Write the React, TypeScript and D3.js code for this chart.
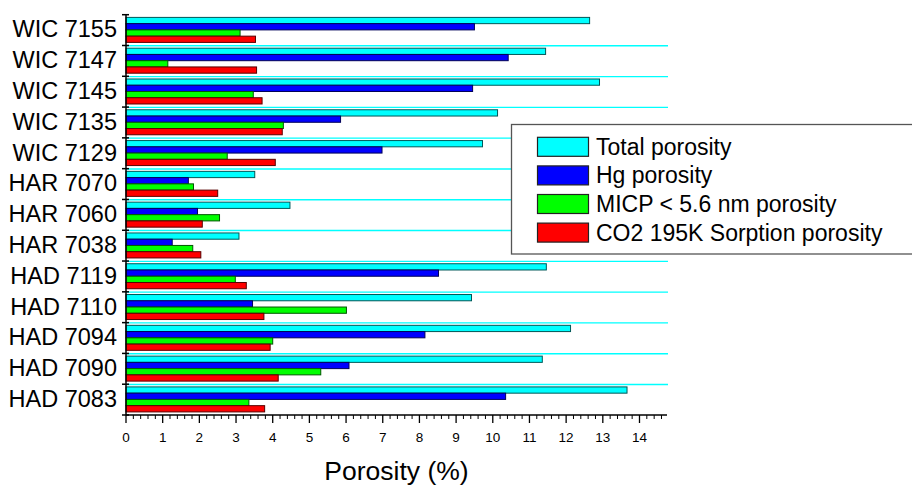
import React from "react";
import * as d3 from "d3";

const categories = [
  "WIC 7155", "WIC 7147", "WIC 7145", "WIC 7135", "WIC 7129",
  "HAR 7070", "HAR 7060", "HAR 7038",
  "HAD 7119", "HAD 7110", "HAD 7094", "HAD 7090", "HAD 7083",
];
const seriesNames = [
  "Total porosity",
  "Hg porosity",
  "MICP < 5.6 nm porosity",
  "CO2 195K Sorption porosity",
];
const seriesColors = ["#00ffff", "#0000ff", "#00ff00", "#ff0000"];
const totalPorosity = [12.64, 11.44, 12.91, 10.13, 9.72, 3.51, 4.47, 3.08, 11.46, 9.42, 12.12, 11.35, 13.66];
const hgPorosity = [9.5, 10.42, 9.45, 5.85, 6.98, 1.7, 1.95, 1.26, 8.52, 3.45, 8.15, 6.08, 10.35];
const micpPorosity = [3.11, 1.14, 3.47, 4.29, 2.76, 1.84, 2.55, 1.82, 2.98, 6.01, 4.0, 5.31, 3.35];
const co2Porosity = [3.53, 3.56, 3.71, 4.26, 4.07, 2.5, 2.08, 2.04, 3.28, 3.76, 3.93, 4.15, 3.78];
const xTicks = [0, 1, 2, 3, 4, 5, 6, 7, 8, 9, 10, 11, 12, 13, 14];
const xMax = 14.75;
const xTitle = "Porosity (%)";

const FONT = "'Liberation Sans', Arial, Helvetica, sans-serif";

export default function App() {
  const W = 912, H = 487;
  const left = 126, right = 667, top = 14.7, bottom = 415;
  const series = [totalPorosity, hgPorosity, micpPorosity, co2Porosity];

  const x = d3.scaleLinear().domain([0, xMax]).range([left, right]);
  const y = d3.scaleBand<string>().domain(categories).range([top, bottom]).padding(0);
  const bw = y.bandwidth();
  const barH = 6.25;
  const groupOffset = 2.7;

  const minorTicks = d3.range(0, xMax + 1e-9, 0.2).filter(
    (v) => Math.abs(v - Math.round(v)) > 1e-6
  );
  const boundaries = categories.map((_, i) => top + i * bw).concat([bottom]);

  return (
    <svg
      width={W}
      height={H}
      style={{ position: "absolute", left: 0, top: 0, background: "#fff" }}
      fontFamily={FONT}
    >
      <rect x={0} y={0} width={W} height={H} fill="#fff" />
      {/* cyan grid lines between categories */}
      {boundaries.slice(1, -1).map((b, i) => (
        <line key={"g" + i} x1={left} x2={right + 1} y1={b + 0.3} y2={b + 0.3} stroke="#00ffff" strokeWidth={1.4} />
      ))}
      {/* bars */}
      {categories.map((c, ci) => (
        <g key={c}>
          {series.map((s, si) => {
            const y0 = (y(c) as number) + groupOffset + si * barH;
            return (
              <rect
                key={si}
                x={x(0)}
                y={y0}
                width={x(s[ci]) - x(0)}
                height={barH}
                fill={seriesColors[si]}
                stroke={d3.rgb(seriesColors[si]).darker(3).formatHex()}
                strokeWidth={1}
              />
            );
          })}
        </g>
      ))}
      {/* y axis */}
      <line x1={left} x2={left} y1={top} y2={bottom} stroke="#000" strokeWidth={1.5} />
      {boundaries.map((b, i) => (
        <line key={"yt" + i} x1={left - 4} x2={left + 3} y1={b} y2={b} stroke="#000" strokeWidth={1.5} />
      ))}
      {categories.map((c) => (
        <text
          key={"yl" + c}
          x={117}
          y={(y(c) as number) + bw / 2 + 7.3}
          textAnchor="end"
          fontSize={23.5}
          fill="#000"
        >
          {c}
        </text>
      ))}
      {/* x axis */}
      <line x1={left} x2={right} y1={bottom} y2={bottom} stroke="#000" strokeWidth={1.5} />
      {xTicks.map((t) => (
        <g key={"xt" + t}>
          <line x1={x(t)} x2={x(t)} y1={bottom} y2={bottom + 8} stroke="#000" strokeWidth={1.3} />
          <text x={x(t)} y={441.5} textAnchor="middle" fontSize={13.5} fill="#000">
            {t}
          </text>
        </g>
      ))}
      {minorTicks.map((t, i) => (
        <line key={"mt" + i} x1={x(t)} x2={x(t)} y1={bottom} y2={bottom + 4} stroke="#000" strokeWidth={1} />
      ))}
      <text x={(left + right) / 2} y={480} textAnchor="middle" fontSize={26.5} fill="#000">
        {xTitle}
      </text>
      {/* legend */}
      <rect x={511.5} y={124.5} width={410} height={129.5} fill="#fff" stroke="#555" strokeWidth={1.3} />
      {seriesNames.map((n, i) => {
        const ry = 137.3 + i * 28.6;
        return (
          <g key={"lg" + i}>
            <rect x={537.5} y={ry} width={51} height={19} fill={seriesColors[i]} stroke="#222" strokeWidth={1.2} />
            <text x={596} y={ry + 17.5} fontSize={23} fill="#000">
              {n}
            </text>
          </g>
        );
      })}
    </svg>
  );
}
